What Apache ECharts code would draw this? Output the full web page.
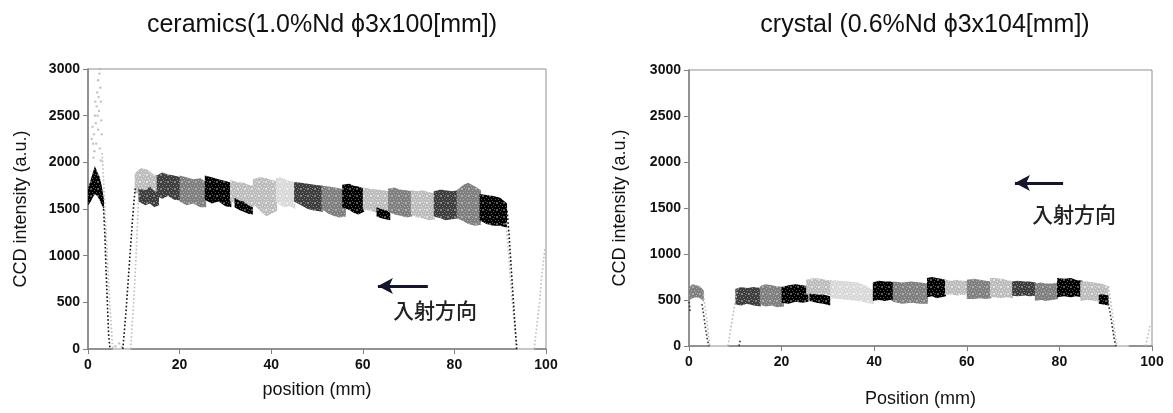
<!DOCTYPE html>
<html>
<head>
<meta charset="utf-8">
<script src="https://cdn.jsdelivr.net/npm/echarts@6/dist/echarts.min.js"></script>
<style>
html, body { margin: 0; background: #fff; }
#main { width: 1173px; height: 413px; }
</style>
</head>
<body>
<div id="main"></div>
<script>
// grey tones used by the stitched CCD frames
var tones = ['#000000', '#3f3f3f', '#808080', '#bdbdbd', '#d9d9d9'];

// ---- ceramics: envelope of each CCD frame (position mm / intensity)
var cerSegX = [
	[0, 0.5, 1, 1.5, 2, 2.5, 3, 3.5],
	[10.2, 11.5, 13, 14, 15.3],
	[11, 12.5, 13.5, 14.5, 15.5],
	[15, 16.2, 17.5, 18.8, 20.3],
	[20, 21.5, 23, 24.5, 25.8],
	[25.5, 27, 28.5, 30, 31.3],
	[31, 32.5, 34, 35, 36.3],
	[32, 33, 34, 35, 36],
	[36, 37.5, 39, 40, 41.3],
	[41, 42, 43, 44, 45.3],
	[45, 46.5, 48, 49.5, 51.3],
	[51, 52.5, 54, 55, 56.3],
	[55.5, 57, 58, 59, 60.3],
	[60, 61.5, 63, 64.5, 65.8],
	[63, 64, 65, 66],
	[65.5, 67, 68, 69.5, 70.8],
	[70.5, 72, 73, 74.5, 75.8],
	[75.5, 77, 78, 79.5, 80.8],
	[80.5, 82, 83, 84.5, 85.8],
	[85.5, 87, 88.5, 90, 91.5]
];
var cerSegHi = [
	[1720, 1800, 1880, 1960, 1900, 1850, 1750, 1600],
	[1880, 1940, 1920, 1880, 1860],
	[1720, 1700, 1740, 1690, 1680],
	[1860, 1890, 1870, 1860, 1840],
	[1860, 1840, 1820, 1830, 1790],
	[1860, 1840, 1820, 1800, 1780],
	[1810, 1790, 1780, 1760, 1750],
	[1620, 1590, 1580, 1540, 1520],
	[1820, 1840, 1830, 1810, 1800],
	[1830, 1840, 1820, 1800, 1790],
	[1790, 1780, 1770, 1760, 1750],
	[1750, 1740, 1730, 1720, 1710],
	[1760, 1770, 1750, 1740, 1720],
	[1730, 1720, 1710, 1700, 1690],
	[1520, 1500, 1490, 1460],
	[1720, 1730, 1710, 1700, 1690],
	[1700, 1690, 1700, 1680, 1670],
	[1690, 1710, 1700, 1690, 1700],
	[1700, 1760, 1780, 1740, 1700],
	[1660, 1650, 1640, 1620, 1560]
];
var cerSegLo = [
	[1540, 1570, 1620, 1660, 1640, 1600, 1540, 1500],
	[1680, 1650, 1640, 1620, 1620],
	[1580, 1540, 1560, 1520, 1540],
	[1640, 1610, 1640, 1600, 1590],
	[1580, 1540, 1560, 1520, 1520],
	[1600, 1560, 1580, 1530, 1520],
	[1580, 1560, 1540, 1530, 1520],
	[1520, 1490, 1470, 1450, 1440],
	[1560, 1480, 1420, 1450, 1480],
	[1580, 1540, 1520, 1530, 1500],
	[1580, 1540, 1500, 1480, 1470],
	[1500, 1450, 1420, 1410, 1420],
	[1520, 1490, 1460, 1440, 1470],
	[1500, 1480, 1460, 1440, 1430],
	[1420, 1400, 1390, 1380],
	[1470, 1440, 1430, 1410, 1420],
	[1440, 1410, 1400, 1380, 1390],
	[1420, 1400, 1380, 1390, 1400],
	[1400, 1370, 1340, 1320, 1330],
	[1380, 1340, 1320, 1320, 1300]
];
var cerSegTone = [0, 3, 1, 1, 2, 0, 3, 0, 3, 4, 1, 2, 0, 3, 0, 2, 3, 1, 2, 0];

// steep edges (dotted traces)
var cerDarkEdges = [
	[[3.4, 1500], [3.7, 1200], [3.9, 900], [4.1, 650], [4.3, 400], [4.5, 160], [4.8, 0]],
	[[7.6, 0], [8.3, 400], [8.9, 820], [9.5, 1240], [9.9, 1500], [10.3, 1720]],
	[[91.5, 1480], [91.9, 1250], [92.3, 950], [92.7, 650], [93.1, 350], [93.6, 0]]
];
var cerLightEdges = [
	[[3.1, 2100], [3.5, 1700], [3.9, 1300], [4.3, 900], [4.7, 520], [5.0, 300], [5.4, 0]],
	[[9.3, 0], [9.7, 300], [10.1, 600], [10.5, 1000], [10.9, 1450], [11.1, 1700]],
	[[91.3, 1350], [91.8, 1050], [92.3, 700], [92.8, 420], [93.3, 180], [93.8, 0]],
	[[97.4, 0], [98.0, 250], [98.6, 500], [99.1, 800], [99.8, 1090]]
];
var cerSpike = [
	[0.8, 2250], [1.0, 2380], [1.1, 2200], [1.3, 2300], [1.5, 2500], [1.6, 2650], [1.7, 2420],
	[1.8, 2200], [1.9, 2600], [2.0, 2750], [2.1, 2500], [2.2, 2880], [2.2, 2350], [2.3, 2700],
	[2.4, 2550], [2.5, 2950], [2.6, 3000], [2.7, 2800], [2.8, 2650], [2.9, 2450], [3.0, 2300],
	[1.2, 2050], [1.4, 2120], [2.6, 2150], [2.8, 2020], [6.0, 30], [6.8, 60], [7.4, 20]
];
var cerZeroRuns = [[[5.4, 0], [9.3, 0]], [[93.8, 0], [97.4, 0]]];

// ---- crystal
var crySegX = [
	[0, 0.8, 1.6, 2.4, 3.2],
	[10, 11.3, 12.5, 14, 15.5],
	[15.3, 16.5, 18, 19, 20.5],
	[20, 21.5, 23, 24.5, 25.8],
	[25.3, 27, 28.5, 29.5, 30.8],
	[26, 27.5, 29, 30.5],
	[30.5, 32.5, 34.5, 36.5, 38.5, 39.9],
	[39.7, 41, 42.3, 43.5, 44.3],
	[44, 46, 48, 50, 51.6],
	[51.4, 52.5, 53.5, 54.5, 55.5],
	[55.3, 56.5, 58, 59, 60.3],
	[60, 61.5, 63, 64, 65.3],
	[65, 66, 67.5, 68.5, 70],
	[69.8, 71, 72.5, 73.5, 74.9],
	[74.7, 76, 77, 78.5, 79.7],
	[79.5, 81, 82.5, 83.5, 85],
	[84.5, 86, 87.5, 89, 90.6],
	[88.5, 89.5, 90.6]
];
var crySegHi = [
	[640, 670, 660, 650, 600],
	[620, 640, 630, 640, 630],
	[650, 670, 660, 650, 640],
	[640, 660, 670, 660, 650],
	[720, 740, 730, 720, 710],
	[570, 560, 560, 540],
	[720, 710, 700, 690, 650, 600],
	[690, 710, 700, 700, 690],
	[700, 690, 700, 690, 680],
	[740, 750, 740, 730, 720],
	[720, 710, 720, 710, 710],
	[720, 730, 720, 710, 700],
	[740, 740, 730, 720, 700],
	[700, 710, 700, 700, 690],
	[680, 690, 680, 680, 690],
	[740, 730, 740, 720, 710],
	[700, 700, 690, 680, 650],
	[560, 560, 550]
];
var crySegLo = [
	[500, 520, 530, 520, 480],
	[450, 440, 460, 440, 430],
	[450, 430, 440, 420, 430],
	[470, 460, 480, 470, 480],
	[560, 550, 570, 560, 550],
	[490, 470, 460, 440],
	[520, 510, 500, 490, 470, 455],
	[490, 500, 490, 500, 490],
	[480, 460, 470, 460, 460],
	[530, 540, 520, 530, 540],
	[560, 560, 550, 560, 550],
	[510, 510, 520, 510, 520],
	[530, 530, 520, 530, 520],
	[545, 540, 550, 540, 545],
	[490, 500, 490, 500, 510],
	[530, 540, 530, 540, 530],
	[490, 500, 490, 480, 470],
	[460, 450, 440]
];
var crySegTone = [2, 1, 2, 0, 3, 0, 4, 0, 2, 0, 3, 2, 3, 1, 2, 0, 3, 0];

var cryDarkEdges = [
	[[0.05, 480], [0.15, 420], [0.25, 360]],
	[[2.8, 456], [3.2, 330], [3.6, 180], [4.0, 60], [4.3, 0]],
	[[10.8, 0], [11.0, 50], [11.1, 70]],
	[[90.4, 500], [90.9, 380], [91.4, 220], [91.8, 90], [92.2, 0]]
];
var cryLightEdges = [
	[[3.1, 560], [3.5, 420], [3.9, 260], [4.2, 120], [4.5, 0]],
	[[8.4, 0], [8.9, 150], [9.5, 330], [10.1, 520], [10.6, 615]],
	[[90.6, 650], [91.1, 480], [91.6, 300], [92.0, 140], [92.4, 0]],
	[[98.6, 0], [99.0, 90], [99.3, 160], [99.6, 240]]
];
var cryZeroRuns = [[[4.5, 0], [8.4, 0]], [[92.4, 0], [95, 0]]];

var titles = ['ceramics(1.0%Nd \u03d53x100[mm])', 'crystal (0.6%Nd \u03d53x104[mm])'];
var xNames = ['position (mm)', 'Position (mm)'];
var yName = 'CCD intensity (a.u.)';
var arrowText = '入射方向';

var chart = echarts.init(document.getElementById('main'));
var series = [];

// speckled fill so the bands read like a dense point cloud
var specks = [[0, 0], [3, 1], [6, 0], [1, 3], [5, 3], [2, 5], [6, 6], [4, 6], [0, 6]];
function speckle(color, light) {
	var c = document.createElement('canvas');
	c.width = 7; c.height = 7;
	var ctx = c.getContext('2d');
	ctx.fillStyle = color;
	ctx.fillRect(0, 0, 7, 7);
	ctx.fillStyle = light ? 'rgba(255,255,255,0.55)' : 'rgba(255,255,255,0.35)';
	specks.forEach(function (p) { ctx.fillRect(p[0], p[1], 1, 1); });
	return { image: c, repeat: 'repeat' };
}

// one polygon per frame: upper edge forward, lower edge back
function bandRender(rows, fill) {
	return function (params, api) {
		if (params.dataIndex !== 0) return;
		var pts = [];
		for (var i = 0; i < rows.length; i++) pts.push(api.coord([rows[i][0], rows[i][2]]));
		for (var j = rows.length - 1; j >= 0; j--) pts.push(api.coord([rows[j][0], rows[j][1]]));
		return { type: 'polygon', shape: { points: pts }, style: { fill: fill } };
	};
}

function addBands(g, xs, his, los, tns) {
	for (var s = 0; s < xs.length; s++) {
		var rows = [];
		for (var i = 0; i < xs[s].length; i++) rows.push([xs[s][i], los[s][i], his[s][i]]);
		series.push({
			type: 'custom', xAxisIndex: g, yAxisIndex: g, silent: true,
			encode: { x: 0, y: [1, 2] },
			renderItem: bandRender(rows, speckle(tones[tns[s]], tns[s] >= 3)), data: rows
		});
	}
}

function addEdges(g, runs, color) {
	runs.forEach(function (r) {
		series.push({
			type: 'line', xAxisIndex: g, yAxisIndex: g, silent: true, symbol: 'none',
			lineStyle: { color: color, width: 1.6, type: [1.6, 2.2] }, data: r
		});
	});
}

function addZero(g, runs) {
	runs.forEach(function (r) {
		series.push({
			type: 'line', xAxisIndex: g, yAxisIndex: g, silent: true, symbol: 'none',
			lineStyle: { color: '#c8c8c8', width: 2 }, data: r
		});
	});
}

function arrow(x1, x2, y) {
	return {
		silent: true, symbol: ['none', 'arrow'], symbolSize: [12, 15],
		label: { show: false },
		lineStyle: { color: '#15152e', width: 3, type: 'solid' },
		data: [[{ coord: [x1, y] }, { coord: [x2, y] }]]
	};
}

addBands(0, cerSegX, cerSegHi, cerSegLo, cerSegTone);
addZero(0, cerZeroRuns);
addEdges(0, cerLightEdges, '#bdbdbd');
addEdges(0, cerDarkEdges, '#111');
series.push({
	type: 'scatter', xAxisIndex: 0, yAxisIndex: 0, silent: true, symbolSize: 2.4,
	itemStyle: { color: '#b4b4b4' }, data: cerSpike, markLine: arrow(74.2, 63.3, 675)
});
addBands(1, crySegX, crySegHi, crySegLo, crySegTone);
addZero(1, cryZeroRuns);
addEdges(1, cryLightEdges, '#bdbdbd');
addEdges(1, cryDarkEdges, '#333');
series.push({
	type: 'scatter', xAxisIndex: 1, yAxisIndex: 1, silent: true, symbolSize: 2,
	itemStyle: { color: '#c4c4c4' }, data: [], markLine: arrow(80.8, 70.4, 1771)
});

function plainNum(v) { return String(v); }

function xAxis(g) {
	return {
		type: 'value', gridIndex: g, min: 0, max: 100, interval: 20,
		name: xNames[g], nameLocation: 'middle', nameGap: g === 0 ? 32 : 44,
		nameTextStyle: { fontFamily: 'Liberation Sans', fontSize: 18, color: '#111' },
		axisLine: { lineStyle: { color: '#808080', width: 1.5 } },
		axisTick: { show: true, length: 5, lineStyle: { color: '#808080' } },
		axisLabel: { fontFamily: 'Liberation Sans', fontSize: 14, fontWeight: 'bold', color: '#111', margin: 9, formatter: plainNum },
		splitLine: { show: false }
	};
}
function yAxis(g) {
	return {
		type: 'value', gridIndex: g, min: 0, max: 3000, interval: 500,
		name: yName, nameLocation: 'middle', nameGap: g === 0 ? 58 : 60,
		nameTextStyle: { fontFamily: 'Liberation Sans', fontSize: 18, color: '#111' },
		axisLine: { lineStyle: { color: '#808080', width: 1.5 } },
		axisTick: { show: true, length: 5, lineStyle: { color: '#808080' } },
		axisLabel: { fontFamily: 'Liberation Sans', fontSize: 14, fontWeight: 'bold', color: '#111', margin: 8, formatter: plainNum },
		splitLine: { show: false }
	};
}

var option = {
	animation: false,
	backgroundColor: '#fff',
	title: [
		{ text: titles[0], left: 317, top: 8, textAlign: 'center',
			textStyle: { fontFamily: 'Liberation Sans', fontSize: 25, fontWeight: 'normal', color: '#111' } },
		{ text: titles[1], left: 920, top: 8, textAlign: 'center',
			textStyle: { fontFamily: 'Liberation Sans', fontSize: 25, fontWeight: 'normal', color: '#111' } }
	],
	grid: [
		{ left: 88, top: 69, right: 627, bottom: 64, show: true, borderColor: '#909090', borderWidth: 1 },
		{ left: 689, top: 70, right: 21, bottom: 60, show: true, borderColor: '#909090', borderWidth: 1 }
	],
	xAxis: [xAxis(0), xAxis(1)],
	yAxis: [yAxis(0), yAxis(1)],
	graphic: [
		{ type: 'text', left: 393, top: 300, style: { text: arrowText, font: '500 21px "Noto Sans CJK JP"', fill: '#222' } },
		{ type: 'text', left: 1032, top: 204, style: { text: arrowText, font: '500 21px "Noto Sans CJK JP"', fill: '#222' } }
	],
	series: series
};
chart.setOption(option);
</script>
</body>
</html>
